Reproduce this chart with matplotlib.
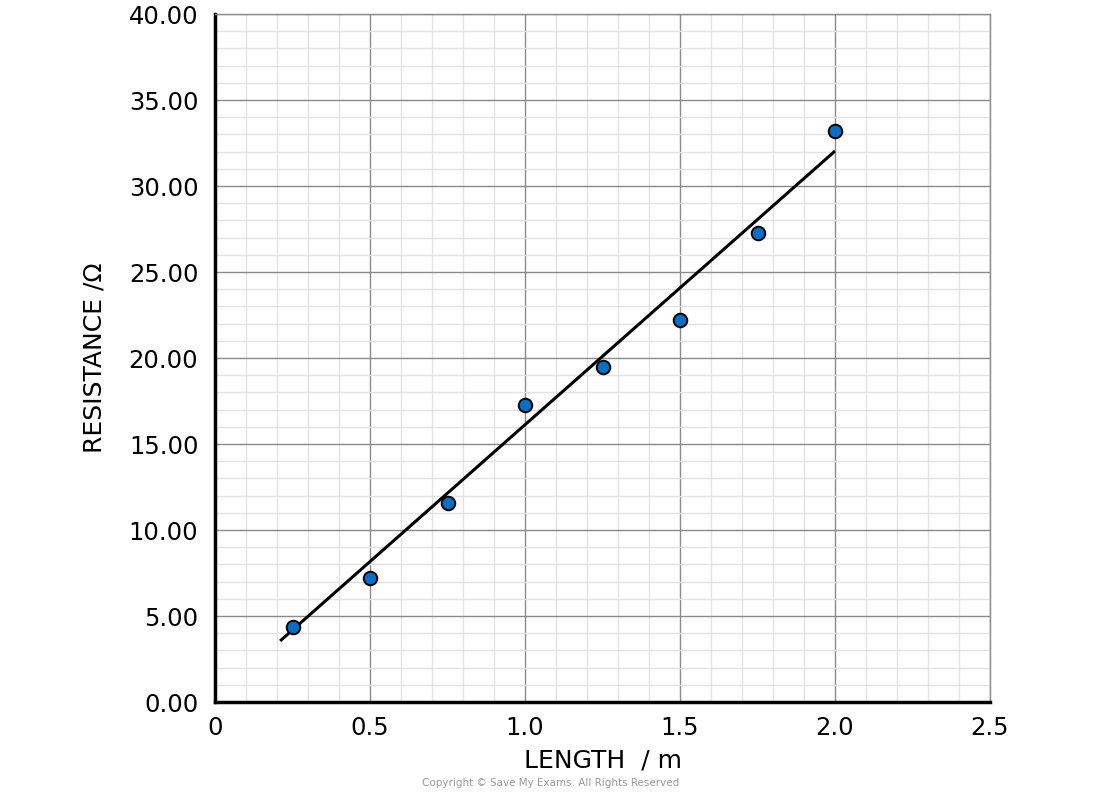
import matplotlib
matplotlib.use("Agg")
import matplotlib.pyplot as plt
import numpy as np
from matplotlib.ticker import MultipleLocator, FormatStrFormatter

length = [0.25, 0.50, 0.75, 1.00, 1.25, 1.50, 1.75, 2.00]
resistance = [4.36, 7.21, 11.57, 17.27, 19.48, 22.20, 27.27, 33.20]
fit_x = [0.21, 2.00]
fit_y = [3.55, 32.03]

x_ticks = [0, 0.5, 1.0, 1.5, 2.0, 2.5]
x_labels = ["0", "0.5", "1.0", "1.5", "2.0", "2.5"]

fig = plt.figure(figsize=(11, 7.94), dpi=100)
ax = fig.add_axes([215/1100, 1-702/794, 775/1100, 688/794])

ax.set_xlim(0, 2.5)
ax.set_ylim(0, 40)
ax.xaxis.set_major_locator(MultipleLocator(0.5))
ax.xaxis.set_minor_locator(MultipleLocator(0.1))
ax.yaxis.set_major_locator(MultipleLocator(5))
ax.yaxis.set_minor_locator(MultipleLocator(1))
ax.set_xticks(x_ticks)
ax.set_xticklabels(x_labels)
ax.yaxis.set_major_formatter(FormatStrFormatter("%.2f"))

ax.grid(which="minor", color="#e3e3e3", linewidth=1.0)
ax.grid(which="major", color="#8a8a8a", linewidth=1.0)
ax.set_axisbelow(True)

ax.tick_params(which="both", length=0, labelsize=17.5)
ax.tick_params(axis="y", pad=12)
ax.tick_params(axis="x", pad=10)
for s in ["top", "right"]:
    ax.spines[s].set_color("#8a8a8a")
    ax.spines[s].set_linewidth(1.0)
for s in ["left", "bottom"]:
    ax.spines[s].set_color("black")
    ax.spines[s].set_linewidth(2.5)

ax.plot(fit_x, fit_y, color="black", linewidth=2.2, zorder=3, solid_capstyle="butt")
ax.scatter(length, resistance, s=95, color="#0a6fc2", edgecolor="black",
           linewidth=1.4, zorder=4, clip_on=False)

ax.set_xlabel("LENGTH  / m", fontsize=18, labelpad=6)
ax.set_ylabel("RESISTANCE /Ω", fontsize=18, labelpad=16)

fig.text(551/1100, 1-783/794, "Copyright © Save My Exams. All Rights Reserved",
         ha="center", va="center", fontsize=7.5, color="#9a9a9a")

fig.savefig("out.png", dpi=100)
